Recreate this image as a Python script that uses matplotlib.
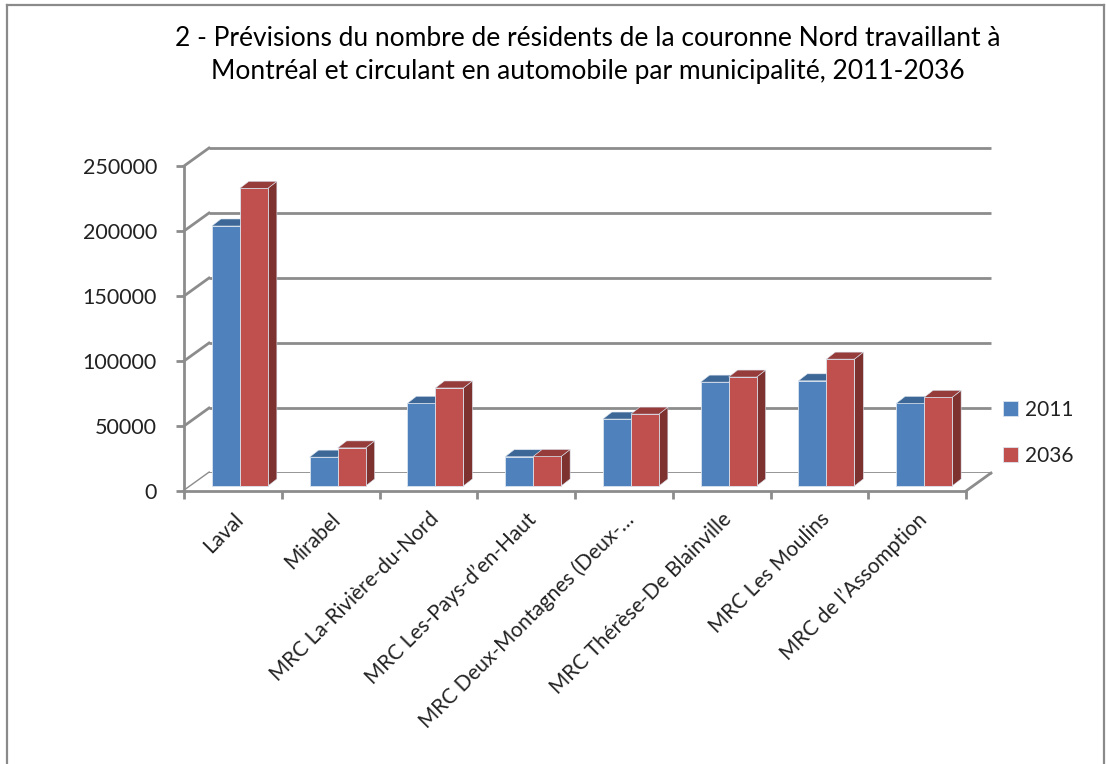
import matplotlib
matplotlib.use("Agg")
import matplotlib.pyplot as plt
from matplotlib.patches import Polygon
from matplotlib.lines import Line2D
import numpy as np

categories = ["Laval", "Mirabel", "MRC La-Rivière-du-Nord", "MRC Les-Pays-d’en-Haut",
              "MRC Deux-Montagnes (Deux-…", "MRC Thérèse-De Blainville",
              "MRC Les Moulins", "MRC de l’Assomption"]
series_names = ["2011", "2036"]
values_2011 = [200000, 22200, 63600, 22500, 51500, 79900, 80900, 63500]
values_2036 = [229000, 29300, 75400, 22700, 55300, 83800, 97600, 68200]
y_ticks = [0, 50000, 100000, 150000, 200000, 250000]
title = ("2 - Prévisions du nombre de résidents de la couronne Nord travaillant à\n"
         "Montréal et circulant en automobile par municipalité, 2011-2036")

plt.rcParams['font.family'] = ['Lato', 'DejaVu Sans']

W, H = 1106, 764
fig = plt.figure(figsize=(W / 100, H / 100), dpi=100)

# axes placement (pixels)
x0, x1 = 184, 966
ytop, ybot = 166, 491
ax = fig.add_axes([x0 / W, (H - ybot) / H, (x1 - x0) / W, (ybot - ytop) / H])
n = len(categories)
ymax = 250000
ax.set_xlim(-0.5, n - 0.5)
ax.set_ylim(0, ymax)

ppc = (x1 - x0) / n            # pixels per category
ppv = (ybot - ytop) / ymax     # pixels per value unit

def dx(px):
    return px / ppc

def dy(px):
    return px / ppv

grid_c = '#8c8c8c'
# back wall offset
BDX, BDY = dx(25), dy(18)

# floor
floor = Polygon([(-0.5, 0), (n - 0.5, 0), (n - 0.5 + BDX, BDY), (-0.5 + BDX, BDY)],
                closed=True, facecolor='white', edgecolor='none', clip_on=False, zorder=1)
ax.add_patch(floor)

for v in y_ticks:
    ax.plot([-0.5 + BDX, n - 0.5 + BDX], [v + BDY, v + BDY], color=grid_c, lw=2,
            clip_on=False, zorder=0.5, solid_capstyle='butt')
    ax.plot([-0.5, -0.5 + BDX], [v, v + BDY], color=grid_c, lw=2, clip_on=False, zorder=0.6)
# right floor edge
ax.plot([n - 0.5, n - 0.5 + BDX], [0, BDY], color=grid_c, lw=2, clip_on=False, zorder=1.1)

# bars
FX = dx(7)      # front plane offset of bars
FY = dy(5)
bw = dx(28)
SDX, SDY = dx(9), dy(7)

front_cols = ['#4F81BD', '#C0504D']
top_cols = ['#3C6796', '#963C3A']
side_cols = ['#34587F', '#7E3230']
xs = np.arange(n)

for s, vals in enumerate([values_2011, values_2036]):
    lefts = xs + FX - bw + s * bw
    ax.bar(lefts, vals, width=bw, bottom=FY, align='edge', color=front_cols[s],
           edgecolor='#dbe3ee', linewidth=0.6, zorder=3 + s, label=series_names[s],
           clip_on=False)
    for l, v in zip(lefts, vals):
        top = Polygon([(l, FY + v), (l + bw, FY + v), (l + bw + SDX, FY + v + SDY),
                       (l + SDX, FY + v + SDY)], closed=True, facecolor=top_cols[s],
                      edgecolor='#dbe3ee', linewidth=0.4, zorder=3 + s, clip_on=False)
        side = Polygon([(l + bw, FY), (l + bw + SDX, FY + SDY), (l + bw + SDX, FY + v + SDY),
                        (l + bw, FY + v)], closed=True, facecolor=side_cols[s],
                       edgecolor='#dbe3ee', linewidth=0.4, zorder=3 + s - 0.5, clip_on=False)
        ax.add_patch(side)
        ax.add_patch(top)

# spines / ticks
for sp in ['top', 'right']:
    ax.spines[sp].set_visible(False)
for sp in ['left', 'bottom']:
    ax.spines[sp].set_color(grid_c)
    ax.spines[sp].set_linewidth(2)
    ax.spines[sp].set_zorder(2)
ax.set_facecolor('none')

ax.set_yticks(y_ticks)
ax.set_yticklabels([str(v) for v in y_ticks])
ax.tick_params(axis='y', length=6, width=2, color=grid_c, pad=13.5, labelsize=15.5,
               labelcolor='#222222')

ax.set_xticks(np.arange(-0.5, n, 1.0))
ax.set_xticklabels([])
ax.set_xticks(xs, minor=True)
ax.set_xticklabels(categories, minor=True, rotation=45, ha='right', va='top',
                   rotation_mode='anchor', fontsize=15, color='#222222')
ax.tick_params(axis='x', which='major', length=6, width=2, color=grid_c)
ax.tick_params(axis='x', which='minor', length=0, pad=13)

# legend
leg = fig.legend(loc='center left', bbox_to_anchor=(995 / W, 1 - 433 / H), frameon=False,
                 fontsize=15, handlelength=0.7, handleheight=0.7, handletextpad=0.35,
                 labelspacing=1.25, borderaxespad=0)
for t in leg.get_texts():
    t.set_color('#222222')

# title
fig.text(588 / W, 1 - 55 / H, title, ha='center', va='center', fontsize=19,
         linespacing=1.4, color='black')

# outer border
bc = '#8a8a8a'
fig.add_artist(Line2D([7 / W, 7 / W], [0, 1 - 5 / H], transform=fig.transFigure, color=bc, lw=1.6))
fig.add_artist(Line2D([1104 / W, 1104 / W], [0, 1 - 5 / H], transform=fig.transFigure, color=bc, lw=1.6))
fig.add_artist(Line2D([7 / W, 1104 / W], [1 - 5 / H, 1 - 5 / H], transform=fig.transFigure, color=bc, lw=1.6))

fig.savefig('out.png', dpi=100, facecolor='white')
